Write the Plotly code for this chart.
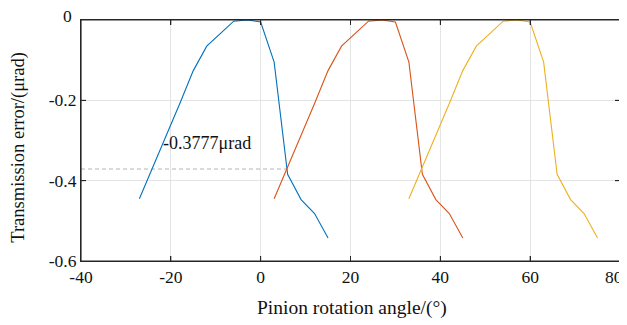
import plotly.graph_objects as go

# ---- data ----
blue_x = [-27, -24, -21, -18, -15, -12, -9, -6, -3, 0, 3, 6, 9, 12, 15]
blue_y = [-0.445, -0.367, -0.287, -0.208, -0.126, -0.065, -0.034, -0.003, 0.0,
          -0.005, -0.105, -0.384, -0.447, -0.482, -0.543]

orange_x = [3, 6, 9, 12, 15, 18, 21, 24, 27, 30, 33, 36, 39, 42, 45]
orange_y = [-0.445, -0.367, -0.287, -0.208, -0.126, -0.065, -0.034, -0.003, 0.0,
            -0.005, -0.105, -0.384, -0.447, -0.482, -0.543]

yellow_x = [33, 36, 39, 42, 45, 48, 51, 54, 57, 60, 63, 66, 69, 72, 75]
yellow_y = [-0.445, -0.367, -0.287, -0.208, -0.126, -0.065, -0.034, -0.003, 0.0,
            -0.005, -0.105, -0.384, -0.447, -0.482, -0.543]

ref_x = [-40, 5.8]
ref_y = [-0.371, -0.371]
ref_label = "-0.3777μrad"

x_range = [-40, 80]
y_range = [-0.6, 0]
x_ticks = [-40, -20, 0, 20, 40, 60, 80]
x_tick_text = ["-40", "-20", "0", "20", "40", "60", ""]
y_ticks = [-0.6, -0.4, -0.2, 0]
y_tick_text = ["-0.6", "-0.4", "-0.2", ""]

x_title = "Pinion rotation angle/(°)"
y_title = "Transmission error/(μrad)"

FONT = "Liberation Serif"
AXC = "#262626"

# page has an 8px body margin: figure placed at (8, 8)
OFF = 8
W, H = 627 - OFF, 325 - OFF
L, R, T, B = 81 - OFF, 7, 19.5 - OFF, 64
pw, ph = W - L - R, H - T - B
TICK_PX = 5
dx_tick = TICK_PX * (x_range[1] - x_range[0]) / pw
dy_tick = TICK_PX * (y_range[1] - y_range[0]) / ph

fig = go.Figure()
fig.add_trace(go.Scatter(x=ref_x, y=ref_y, mode="lines",
                         line=dict(color="#b4b4b4", width=1, dash="4px,3px"),
                         showlegend=False, hoverinfo="skip"))
fig.add_trace(go.Scatter(x=blue_x, y=blue_y, mode="lines",
                         line=dict(color="#0072BD", width=1.1), showlegend=False))
fig.add_trace(go.Scatter(x=orange_x, y=orange_y, mode="lines",
                         line=dict(color="#D95319", width=1.1), showlegend=False))
fig.add_trace(go.Scatter(x=yellow_x, y=yellow_y, mode="lines",
                         line=dict(color="#EDB120", width=1.1), showlegend=False))

# axes box and inward tick marks (derived from axis ranges and tick lists)
box_x = [x_range[0], x_range[1], x_range[1], x_range[0], x_range[0]]
box_y = [y_range[0], y_range[0], y_range[1], y_range[1], y_range[0]]
tx, ty = [], []
for v in x_ticks[1:-1]:
    tx += [v, v, None, v, v, None]
    ty += [y_range[0], y_range[0] + dy_tick, None, y_range[1], y_range[1] - dy_tick, None]
for v in y_ticks[1:-1]:
    tx += [x_range[0], x_range[0] + dx_tick, None, x_range[1], x_range[1] - dx_tick, None]
    ty += [v, v, None, v, v, None]
fig.add_trace(go.Scatter(x=tx, y=ty, mode="lines", line=dict(color=AXC, width=1),
                         showlegend=False, hoverinfo="skip", cliponaxis=False))
fig.add_trace(go.Scatter(x=box_x, y=box_y, mode="lines", line=dict(color=AXC, width=1.2),
                         showlegend=False, hoverinfo="skip", cliponaxis=False))

axis_style = dict(showline=True, linecolor=AXC, linewidth=1, mirror="ticks",
                  ticks="inside", ticklen=5, tickcolor=AXC, tickwidth=1,
                  showgrid=True, gridcolor="#e4e4e4", gridwidth=1, zeroline=False,
                  automargin=False, ticklabeloverflow="allow",
                  tickfont=dict(family=FONT, size=17.5, color="#111111"))

fig.update_layout(
    width=W, height=H, margin=dict(l=L, r=R, t=T, b=B, pad=0),
    plot_bgcolor="white", paper_bgcolor="white",
    font=dict(family=FONT, color="#111111", size=17.5),
    xaxis=dict(range=x_range, tickmode="array", tickvals=x_ticks, ticktext=x_tick_text,
               **axis_style),
    yaxis=dict(range=y_range, tickmode="array", tickvals=y_ticks, ticktext=y_tick_text,
               **axis_style),
)

def px2paper(px, py):
    px, py = px - OFF, py - OFF
    return (px - L) / pw, (H - B - py) / ph

ann = []
ann.append(dict(x=-11.9, y=-0.305, xref="x", yref="y", text=ref_label, showarrow=False,
                font=dict(family=FONT, size=18, color="#111111"),
                xanchor="center", yanchor="middle"))
for txt, px, py, size, ang in [("0", 67, 15, 17.5, 0),
                                ("80", 614, 277, 17.5, 0),
                                (x_title, 351.5, 308, 19.5, 0),
                                (y_title, 18.5, 147, 18.5, -90)]:
    ax, ay = px2paper(px, py)
    ann.append(dict(x=ax, y=ay, xref="paper", yref="paper", text=txt, showarrow=False,
                    textangle=ang, font=dict(family=FONT, size=size, color="#111111"),
                    xanchor="center", yanchor="middle"))
fig.update_layout(annotations=ann)

fig.write_html("out.html")
